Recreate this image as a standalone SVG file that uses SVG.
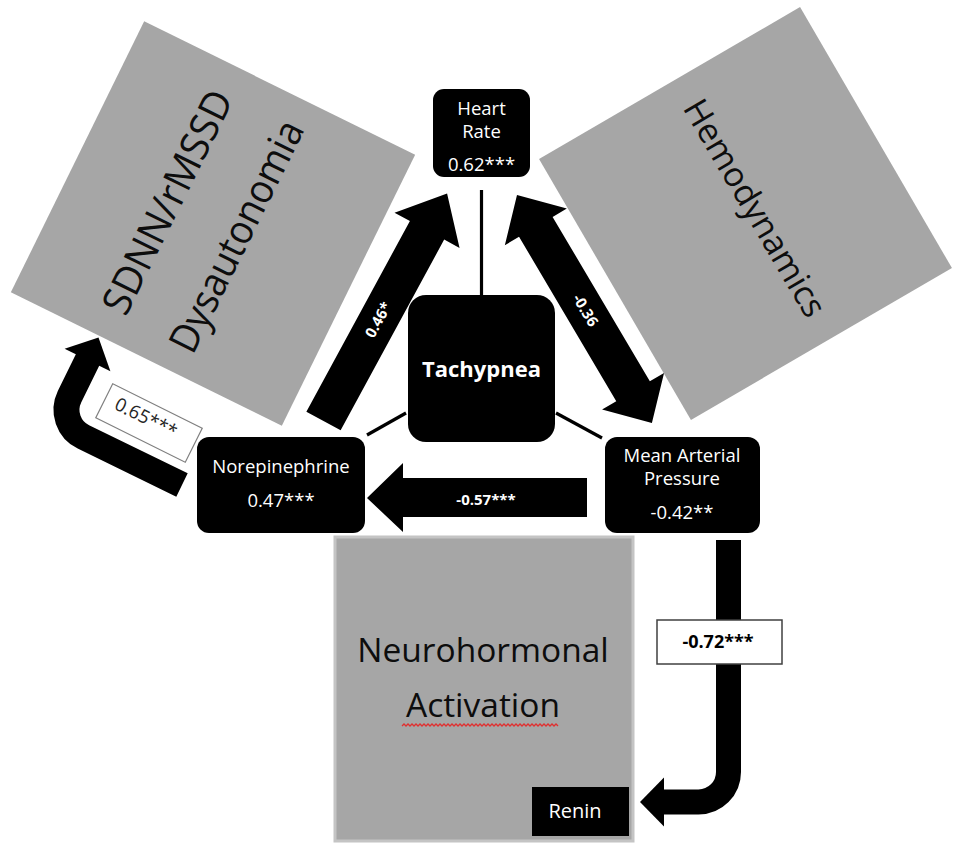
<svg xmlns="http://www.w3.org/2000/svg" width="960" height="849" viewBox="0 0 960 849">
<defs>
<style>
.sq{fill:#a6a6a6}
.big{font-family:"Open Sans","Liberation Sans",sans-serif;fill:#0d0d0d}
.box{fill:#000}
.wt{font-family:"Open Sans","Liberation Sans",sans-serif;fill:#fff;font-size:18.5px;text-anchor:middle}
.lbl{font-family:"Open Sans","Liberation Sans",sans-serif;font-weight:bold;fill:#fff;font-size:15px;text-anchor:middle}
.ln{stroke:#000;stroke-width:3.2;fill:none}
.arr{fill:#000}
</style>
</defs>
<rect width="960" height="849" fill="#fff"/>

<g id="sdnn">
<rect class="sq" x="-151" y="-151" width="302" height="302" transform="translate(213,223.5) rotate(26.2)"/>
<g transform="translate(202,219) rotate(-63.6)">
<text class="big" x="0" y="-24.5" font-size="40" text-anchor="middle" textLength="244" lengthAdjust="spacingAndGlyphs">SDNN/rMSSD</text>
<text class="big" x="0" y="52.5" font-size="40" text-anchor="middle" textLength="253" lengthAdjust="spacingAndGlyphs">Dysautonomia</text>
</g>
</g>

<g id="hemodynamics">
<rect class="sq" x="-151" y="-151" width="302" height="302" transform="translate(745.5,213.5) rotate(-30.2)"/>
<text class="big" x="0" y="1" font-size="34" text-anchor="middle" transform="translate(745.5,213.5) rotate(59.5)">Hemodynamics</text>
</g>

<g id="neurohormonal">
<rect x="335" y="537" width="298" height="304" fill="#a6a6a6" stroke="#c4c4c4" stroke-width="3"/>
<text class="big" x="483" y="662" font-size="33.5" text-anchor="middle">Neurohormonal</text>
<text class="big" x="483" y="717" font-size="33.5" text-anchor="middle">Activation</text>
<path d="M402,726 l2,-2 2,2 2,-2 2,2 2,-2 2,2 2,-2 2,2 2,-2 2,2 2,-2 2,2 2,-2 2,2 2,-2 2,2 2,-2 2,2 2,-2 2,2 2,-2 2,2 2,-2 2,2 2,-2 2,2 2,-2 2,2 2,-2 2,2 2,-2 2,2 2,-2 2,2 2,-2 2,2 2,-2 2,2 2,-2 2,2 2,-2 2,2 2,-2 2,2 2,-2 2,2 2,-2 2,2 2,-2 2,2 2,-2 2,2 2,-2 2,2 2,-2 2,2 2,-2 2,2 2,-2 2,2 2,-2 2,2 2,-2 2,2 2,-2 2,2 2,-2 2,2 2,-2 2,2 2,-2 2,2 2,-2 2,2 2,-2 2,2 2,-2 2,2" fill="none" stroke="#e03030" stroke-width="1.3"/>
</g>

<g id="connectors">
<line class="ln" x1="481.5" y1="190" x2="481.5" y2="296"/>
<line class="ln" x1="406" y1="413" x2="367" y2="435"/>
<line class="ln" x1="556" y1="413" x2="602" y2="438"/>

<g transform="translate(323.5,421) rotate(-61.5)">
<polygon class="arr" points="0,-19.5 217,-19.5 217,-37 259,0 217,37 217,19.5 0,19.5"/>
<text class="lbl" x="115" y="5">0.46*</text>
</g>

<g transform="translate(517,195) rotate(59.4)">
<polygon class="arr" points="0,0 37,-36 37,-19.5 228,-19.5 228,-36 265,0 228,36 228,19.5 37,19.5 37,36"/>
<text class="lbl" x="134" y="5">-0.36</text>
</g>

<polygon class="arr" points="367,498 403,463 403,478 587,478 587,517 403,517 403,532"/>
<text class="lbl" x="486" y="505">-0.57***</text>

<path d="M182,485 L83.4,436.9 A30,30 0 0 1 69.5,396.8 L88.5,358" fill="none" stroke="#000" stroke-width="26"/>
<polygon class="arr" points="64.6,348.8 98.5,337.5 110.4,371.2"/>
<g transform="translate(149,423) rotate(26.5)">
<rect x="-50" y="-19" width="100" height="38" fill="#fff" stroke="#808080" stroke-width="1.2"/>
<text x="-5" y="3" font-family="'Open Sans','Liberation Sans',sans-serif" font-size="18.5" fill="#262626" text-anchor="middle">0.65***</text>
</g>

<path d="M728.5,540 V772 A30,30 0 0 1 698.5,802 H662" fill="none" stroke="#000" stroke-width="25"/>
<polygon class="arr" points="640,802 664,777.5 664,826.5"/>
<rect x="657" y="620" width="125" height="44" fill="#fff" stroke="#404040" stroke-width="1.5"/>
<text x="718" y="648" font-family="'Open Sans','Liberation Sans',sans-serif" font-weight="bold" font-size="18" fill="#000" text-anchor="middle">-0.72***</text>
</g>

<g id="heart-rate">
<rect class="box" x="433" y="89" width="97" height="88" rx="11"/>
<text class="wt" x="481.5" y="115">Heart</text>
<text class="wt" x="481.5" y="138">Rate</text>
<text class="wt" x="481.5" y="171">0.62***</text>
</g>

<g id="tachypnea">
<rect class="box" x="408" y="295" width="147" height="147" rx="18"/>
<text x="481.5" y="377" font-family="'Open Sans','Liberation Sans',sans-serif" font-weight="bold" font-size="22" fill="#fff" text-anchor="middle">Tachypnea</text>
</g>

<g id="norepinephrine">
<rect class="box" x="197" y="437" width="168" height="96" rx="12"/>
<text class="wt" x="281" y="473">Norepinephrine</text>
<text class="wt" x="281" y="507">0.47***</text>
</g>

<g id="map">
<rect class="box" x="605" y="437" width="155" height="96" rx="12"/>
<text class="wt" x="682" y="462">Mean Arterial</text>
<text class="wt" x="682" y="485">Pressure</text>
<text class="wt" x="682" y="519">-0.42**</text>
</g>

<g id="renin">
<rect class="box" x="532" y="787" width="97" height="49"/>
<text class="wt" x="575" y="818" style="font-size:20px">Renin</text>
</g>
</svg>
